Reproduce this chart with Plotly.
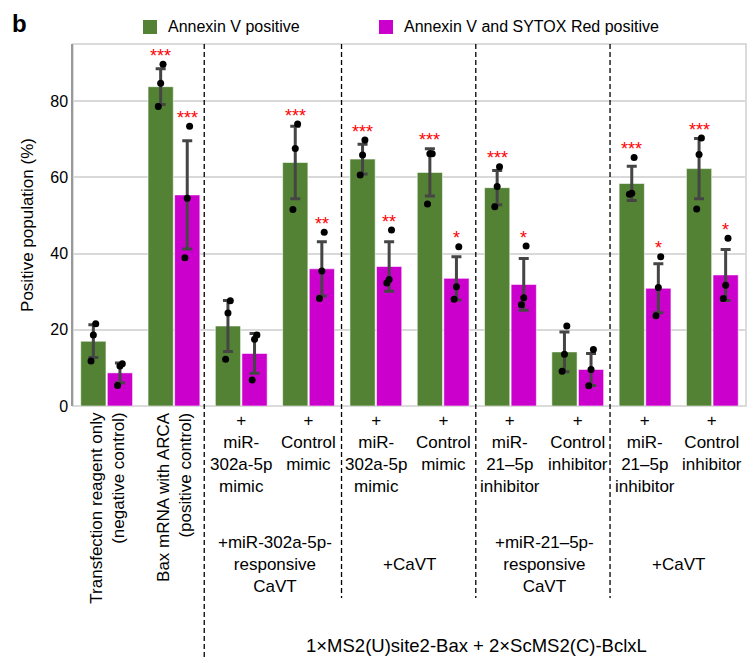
import plotly.graph_objects as go

# ---------------- data ----------------
rotated_labels = ["Transfection reagent only<br>(negative control)",
                  "Bax mRNA with ARCA<br>(positive control)"]
cat_labels = ["+<br>miR-<br>302a-5p<br>mimic", "+<br>Control<br>mimic",
              "+<br>miR-<br>302a-5p<br>mimic", "+<br>Control<br>mimic",
              "+<br>miR-<br>21–5p<br>inhibitor", "+<br>Control<br>inhibitor",
              "+<br>miR-<br>21–5p<br>inhibitor", "+<br>Control<br>inhibitor"]
group_labels = ["+miR-302a-5p-<br>responsive<br>CaVT", "+CaVT",
                "+miR-21–5p-<br>responsive<br>CaVT", "+CaVT"]
construct_label = "1×MS2(U)site2-Bax + 2×ScMS2(C)-BclxL"

series_names = ["Annexin V positive", "Annexin V and SYTOX Red positive"]

green_mean = [17.0, 83.8, 21.0, 63.9, 64.8, 61.3, 57.3, 14.2, 58.4, 62.3]
green_sd = [4.3, 4.7, 6.7, 9.5, 3.9, 6.2, 4.5, 5.2, 4.5, 7.9]
green_points = [[21.6, 18.6, 11.8], [89.7, 84.7, 78.6], [27.6, 24.4, 12.3],
                [74.0, 67.6, 51.6], [69.8, 65.9, 60.6], [66.2, 66.2, 53.0],
                [62.8, 57.6, 52.3], [21.0, 13.6, 9.1], [65.2, 55.8, 55.6],
                [70.3, 66.0, 51.7]]
green_sig = ["", "***", "", "***", "***", "***", "***", "", "***", "***"]

magenta_mean = [8.7, 55.4, 13.8, 36.0, 36.6, 33.5, 31.9, 9.6, 30.9, 34.4]
magenta_sd = [2.6, 14.2, 5.2, 7.1, 6.5, 5.7, 6.8, 4.2, 6.4, 6.7]
magenta_points = [[11.1, 10.5, 5.4], [73.4, 54.5, 38.9], [18.6, 17.5, 6.8],
                  [45.6, 35.4, 28.2], [46.2, 33.2, 32.3], [41.8, 31.3, 28.0],
                  [42.0, 28.4, 26.6], [14.8, 9.6, 5.3], [39.2, 31.1, 23.7],
                  [44.0, 31.7, 28.2]]
magenta_sig = ["", "***", "", "**", "**", "*", "*", "", "*", "*"]

yticks = [0, 20, 40, 60, 80]

# ---------------- style ----------------
GREEN = "#548235"
MAGENTA = "#CC00CC"
FONT = "Liberation Sans, Arial, Helvetica, sans-serif"
BAR_W = 0.375
OFFSETS = [-0.385, 0.01]
JITTER = [0.035, 0.0, -0.035]
W, H = 753, 663
ML, MR, MT, MB = 73, 7, 44, 257
PW, PH = W - ML - MR, H - MT - MB


def px_x(p):
    return (p - ML) / PW


def px_y(p):
    return (H - MB - p) / PH


n = len(green_mean)
idx = list(range(n))

fig = go.Figure()

series = [
    (series_names[0], green_mean, green_sd, green_points, green_sig, GREEN, OFFSETS[0]),
    (series_names[1], magenta_mean, magenta_sd, magenta_points, magenta_sig, MAGENTA, OFFSETS[1]),
]

for name, mean, sd, pts, sig, color, off in series:
    fig.add_trace(go.Bar(
        x=idx, y=mean, name=name, width=BAR_W, offset=off, showlegend=False,
        marker=dict(color=color, line=dict(color="rgba(255,255,255,0.7)", width=0.8)),
        error_y=dict(type="data", array=sd, color="#454545", thickness=3, width=5),
    ))

for name, mean, sd, pts, sig, color, off in series:
    xs, ys = [], []
    center = off + BAR_W / 2
    for i, plist in enumerate(pts):
        for j, v in enumerate(plist):
            xs.append(i + center + JITTER[j % len(JITTER)])
            ys.append(v)
    fig.add_trace(go.Scatter(x=xs, y=ys, mode="markers", showlegend=False,
                             marker=dict(color="black", size=7), hoverinfo="y"))
    for i, s in enumerate(sig):
        if s:
            top = max(max(pts[i]), mean[i] + sd[i])
            fig.add_annotation(x=i + center, y=top + 2.2, text=s, showarrow=False,
                               yanchor="middle", font=dict(color="red", size=18, family=FONT))

# rotated control labels
for i, t in enumerate(rotated_labels):
    fig.add_annotation(x=i, y=0, yref="paper", text=t, textangle=-90, showarrow=False,
                       xanchor="center", yanchor="top", yshift=-4, align="right",
                       font=dict(size=17, family=FONT, color="black"))
# per-bar treatment labels
for k, t in enumerate(cat_labels):
    fig.add_annotation(x=k + 2, y=0, yref="paper", text=t, showarrow=False,
                       xanchor="center", yanchor="top", yshift=-3, align="center",
                       font=dict(size=17, family=FONT, color="black"))
# group labels
for k, t in enumerate(group_labels):
    fig.add_annotation(x=2.5 + 2 * k, y=px_y(564), yref="paper", text=t, showarrow=False,
                       xanchor="center", yanchor="middle", align="center",
                       font=dict(size=17, family=FONT, color="black"))
fig.add_annotation(x=5.5, y=px_y(645), yref="paper", text=construct_label, showarrow=False,
                   xanchor="center", yanchor="middle",
                   font=dict(size=18.5, family=FONT, color="black"))
# panel letter
fig.add_annotation(x=px_x(10), y=px_y(8), xref="paper", yref="paper", text="<b>b</b>",
                   showarrow=False, xanchor="left", yanchor="top",
                   font=dict(size=24, family=FONT, color="black"))

shapes = []
# legend (drawn manually)
legend_items = [(series_names[0], GREEN, 150, 166), (series_names[1], MAGENTA, 386, 402)]
for name, color, cx, tx in legend_items:
    shapes.append(dict(type="rect", xref="paper", yref="paper",
                       x0=px_x(cx - 7), x1=px_x(cx + 7), y0=px_y(34), y1=px_y(20),
                       fillcolor=color, line=dict(width=0)))
    fig.add_annotation(x=px_x(tx), y=px_y(27), xref="paper", yref="paper", text=name,
                       showarrow=False, xanchor="left", yanchor="middle",
                       font=dict(size=16, family=FONT, color="black"))
# plot frame
shapes.append(dict(type="rect", xref="paper", yref="paper", x0=0, x1=1, y0=0, y1=1,
                   line=dict(color="#d0d0d0", width=1.5), layer="below"))
# dashed separators
for k, b in enumerate([1.45, 3.49, 5.485, 7.48]):
    shapes.append(dict(type="line", xref="x", yref="paper", x0=b, x1=b, y0=1,
                       y1=px_y(660) if k == 0 else px_y(598),
                       line=dict(color="black", width=1.3, dash="5px,3px")))

fig.update_layout(
    width=W, height=H,
    margin=dict(l=ML, r=MR, t=MT, b=MB),
    paper_bgcolor="white", plot_bgcolor="white",
    barmode="overlay",
    font=dict(family=FONT, size=16, color="black"),
    shapes=shapes,
    showlegend=False,
    xaxis=dict(range=[-0.5, 9.5], showticklabels=False, showgrid=False, zeroline=False,
               showline=False, ticks=""),
    yaxis=dict(range=[0, 95], tickvals=yticks, showgrid=True, gridcolor="#d9d9d9",
               gridwidth=1.5, zeroline=False, showline=True, linecolor="#999999",
               linewidth=1.5, ticks="",
               tickfont=dict(size=16, family=FONT),
               title=dict(text="Positive population (%)", standoff=12,
                          font=dict(size=17, family=FONT))),
)

fig.write_html("out.html", config={"displayModeBar": False},
               post_script="document.body.style.margin='0px';")
